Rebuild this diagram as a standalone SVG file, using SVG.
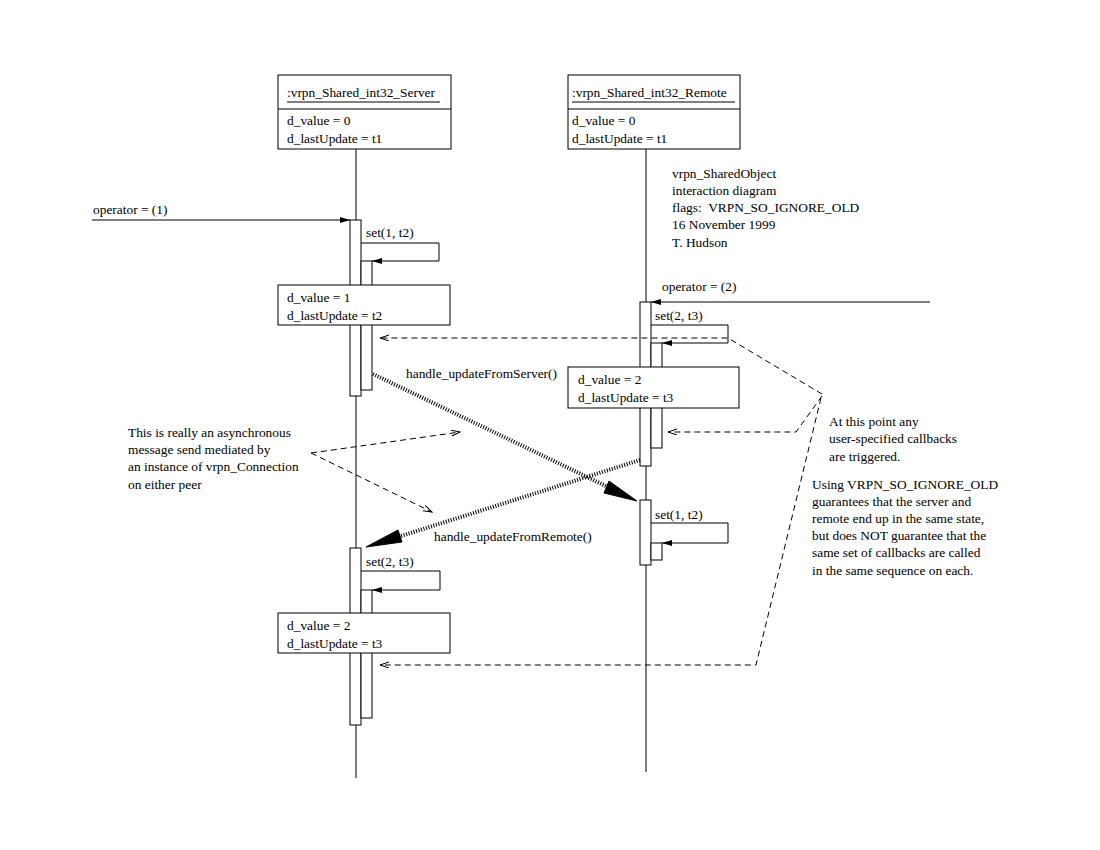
<svg xmlns="http://www.w3.org/2000/svg" width="1100" height="850" viewBox="0 0 1100 850">
<defs>
<style>
text{font-family:"Liberation Serif","Times New Roman",serif;font-size:13.4px;fill:#000}
.box{fill:#fff;stroke:#000;stroke-width:1}
.bar{fill:#fff;stroke:#000;stroke-width:1}
.ln{fill:none;stroke:#000;stroke-width:1}
.msg{fill:none;stroke:#000;stroke-width:1;marker-end:url(#fa)}
.dasha{fill:none;stroke:#000;stroke-width:1;stroke-dasharray:6 4;marker-end:url(#oa)}
.hatch{fill:none;stroke:#000;stroke-width:4;stroke-dasharray:1 1.6}
</style>
<marker id="fa" markerWidth="11" markerHeight="7" refX="10" refY="3" orient="auto" markerUnits="userSpaceOnUse">
<path d="M0,0 L10,3 L0,6 z" fill="#000"/>
</marker>
<marker id="oa" markerWidth="10" markerHeight="8" refX="9" refY="3" orient="auto" markerUnits="userSpaceOnUse">
<path d="M0,0 L9,3 L0,6" fill="none" stroke="#000" stroke-width="1"/>
</marker>
</defs>
<rect width="1100" height="850" fill="#fff"/>

<g id="lifelines">
<line class="ln" x1="356" y1="149" x2="356" y2="778"/>
<line class="ln" x1="646" y1="149" x2="646" y2="772"/>
</g>

<g id="server">
<rect class="box" x="278" y="75" width="173" height="74"/>
<line class="ln" x1="278" y1="109" x2="451" y2="109"/>
<text x="287" y="97">:vrpn_Shared_int32_Server</text>
<line class="ln" x1="287" y1="102" x2="440" y2="102"/>
<text x="287" y="125">d_value = 0</text>
<text x="287" y="143">d_lastUpdate = t1</text>
</g>

<g id="remote">
<rect class="box" x="568" y="75" width="172" height="74"/>
<line class="ln" x1="568" y1="109" x2="740" y2="109"/>
<text x="572" y="97">:vrpn_Shared_int32_Remote</text>
<line class="ln" x1="572" y1="102" x2="735" y2="102"/>
<text x="572" y="125">d_value = 0</text>
<text x="572" y="143">d_lastUpdate = t1</text>
</g>

<g id="server-activation-1">
<rect class="bar" x="350" y="220" width="11" height="176"/>
<rect class="bar" x="361" y="261" width="11" height="129"/>
</g>
<g id="server-state-1">
<rect class="box" x="278" y="285" width="172" height="40"/>
<text x="287" y="302">d_value = 1</text>
<text x="287" y="320">d_lastUpdate = t2</text>
</g>

<g id="remote-activation-1">
<rect class="bar" x="640" y="302" width="11" height="164"/>
<rect class="bar" x="651" y="343" width="11" height="105"/>
</g>
<g id="remote-state-1">
<rect class="box" x="568" y="367" width="171" height="41"/>
<text x="578" y="384">d_value = 2</text>
<text x="578" y="402">d_lastUpdate = t3</text>
</g>

<g id="remote-activation-2">
<rect class="bar" x="640" y="500" width="11" height="65"/>
<rect class="bar" x="651" y="543" width="11" height="17"/>
</g>

<g id="server-activation-2">
<rect class="bar" x="350" y="548" width="11" height="177"/>
<rect class="bar" x="361" y="590" width="11" height="128"/>
</g>
<g id="server-state-2">
<rect class="box" x="278" y="613" width="172" height="40"/>
<text x="287" y="630">d_value = 2</text>
<text x="287" y="648">d_lastUpdate = t3</text>
</g>

<g id="connectors">
<line class="msg" x1="92" y1="220" x2="350" y2="220"/>
<polyline class="msg" points="361,243 439,243 439,261 372,261"/>
<line class="msg" x1="930" y1="302" x2="651" y2="302"/>
<polyline class="msg" points="651,325 728,325 728,343 662,343"/>
<polyline class="msg" points="651,523 728,523 728,543 662,543"/>
<polyline class="msg" points="361,571 440,571 440,590 372,590"/>

<polyline class="dasha" points="822,394 728,338 380,338"/>
<polyline class="dasha" points="822,396 796,432 668,432"/>
<polyline class="dasha" points="821,398 756,665 380,665"/>

<polyline class="dasha" points="311,453 460,432"/>
<polyline class="dasha" points="311,453 432,512"/>

<line class="hatch" x1="373" y1="374" x2="608" y2="487"/>
<path d="M637,501 L609,481 L604,493 z" fill="#000" stroke="#000" stroke-width="1"/>
<line class="hatch" x1="640" y1="460" x2="398" y2="537"/>
<path d="M366,547 L398,530 L402,542 z" fill="#000" stroke="#000" stroke-width="1"/>
</g>

<g id="labels">
<text x="93" y="214">operator = (1)</text>
<text x="366" y="237">set(1, t2)</text>
<text x="662" y="291">operator = (2)</text>
<text x="655" y="320">set(2, t3)</text>
<text x="406" y="378">handle_updateFromServer()</text>
<text x="655" y="519">set(1, t2)</text>
<text x="434" y="541">handle_updateFromRemote()</text>
<text x="366" y="566">set(2, t3)</text>
</g>

<g id="note-title">
<text x="672" y="178">vrpn_SharedObject</text>
<text x="672" y="195">interaction diagram</text>
<text x="672" y="212">flags:&#160; VRPN_SO_IGNORE_OLD</text>
<text x="672" y="229">16 November 1999</text>
<text x="672" y="247">T. Hudson</text>
</g>

<g id="note-async">
<text x="128" y="437">This is really an asynchronous</text>
<text x="128" y="454">message send mediated by</text>
<text x="128" y="471">an instance of vrpn_Connection</text>
<text x="128" y="489">on either peer</text>
</g>

<g id="note-callbacks">
<text x="829" y="426">At this point any</text>
<text x="829" y="443">user-specified callbacks</text>
<text x="829" y="461">are triggered.</text>
<text x="812" y="489">Using VRPN_SO_IGNORE_OLD</text>
<text x="812" y="506">guarantees that the server and</text>
<text x="812" y="523">remote end up in the same state,</text>
<text x="812" y="540">but does NOT guarantee that the</text>
<text x="812" y="557">same set of callbacks are called</text>
<text x="812" y="575">in the same sequence on each.</text>
</g>
</svg>
